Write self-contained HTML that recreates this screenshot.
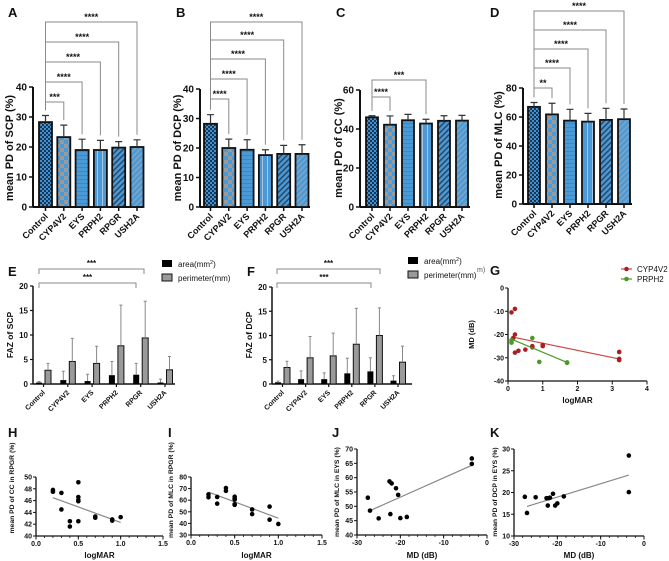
<!DOCTYPE html>
<html><head><meta charset="utf-8">
<style>
html,body{margin:0;padding:0;background:#fff;}
svg{display:block;font-family:"Liberation Sans",Arial,sans-serif;}
</style></head>
<body>
<svg id="fig" width="669" height="561" viewBox="0 0 669 561" xmlns="http://www.w3.org/2000/svg">
<defs>
<pattern id="pCtrl" width="4" height="4" patternUnits="userSpaceOnUse"><rect width="4" height="4" fill="#1c3552"/><rect width="2" height="2" fill="#3f92d2"/><rect x="2" y="2" width="2" height="2" fill="#3f92d2"/></pattern>
<pattern id="pCyp" width="8" height="8" patternUnits="userSpaceOnUse"><rect width="8" height="8" fill="#4a9ad8"/><rect width="4" height="4" fill="#9a9a9a"/><rect x="4" y="4" width="4" height="4" fill="#9a9a9a"/></pattern>
<pattern id="pEys" width="4" height="4" patternUnits="userSpaceOnUse"><rect width="4" height="4" fill="#4a9ad8"/><rect y="3" width="4" height="1" fill="#6a7c8c"/></pattern>
<pattern id="pPrph" width="5" height="5" patternUnits="userSpaceOnUse"><rect width="5" height="5" fill="#4a9ad8"/><rect x="2" width="1" height="5" fill="#a9c6de"/></pattern>
<pattern id="pRpgr" width="4" height="4" patternUnits="userSpaceOnUse" patternTransform="rotate(45)"><rect width="4" height="4" fill="#4a9ad8"/><rect width="1.6" height="4" fill="#2a4a6a"/></pattern>
<pattern id="pUsh" width="4" height="4" patternUnits="userSpaceOnUse" patternTransform="rotate(45)"><rect width="4" height="4" fill="#4a9ad8"/><rect width="1.3" height="4" fill="#8aa6bd"/></pattern>
</defs>
</svg>
<script>
const barCats = ['Control','CYP4V2','EYS','PRPH2','RPGR','USH2A'];
const aMean = [28.3, 23.3, 19.0, 19.0, 19.8, 20.0];
const aErr  = [30.5, 27.3, 22.6, 22.2, 21.8, 22.4];
const aSig  = ['***','****','****','****','****'];
const bMean = [28.2, 20.0, 19.4, 17.6, 18.0, 18.0];
const bErr  = [31.3, 23.0, 22.8, 19.4, 20.9, 21.1];
const bSig  = ['****','****','****','****','****'];
const cMean = [46.0, 42.2, 44.5, 42.8, 44.2, 44.3];
const cErr  = [46.8, 46.7, 47.5, 45.0, 46.8, 47.0];
const cSig  = ['****','***'];
const cSigTargets = [1, 3];
const dMean = [67.0, 61.8, 57.5, 56.8, 58.0, 58.5];
const dErr  = [70.0, 69.5, 65.3, 62.5, 66.0, 65.5];
const dSig  = ['**','****','****','****','****'];
const eArea = [0.3, 0.8, 0.6, 1.8, 1.9, 0.3];
const eAreaErr = [0.5, 2.6, 2.0, 4.6, 4.2, 1.0];
const ePerim = [2.8, 4.6, 4.2, 7.8, 9.4, 2.9];
const ePerimErr = [4.2, 9.3, 7.7, 16.1, 16.9, 5.6];
const fArea = [0.35, 1.0, 1.0, 2.2, 2.6, 0.7];
const fAreaErr = [0.6, 2.7, 2.3, 5.3, 5.4, 1.7];
const fPerim = [3.4, 5.4, 5.8, 8.2, 10.0, 4.5];
const fPerimErr = [4.7, 9.8, 10.5, 15.6, 15.7, 7.8];
const gCypX = [0.1, 0.2, 0.15, 0.2, 0.2, 0.3, 0.5, 0.7, 0.7, 1.0, 1.0, 3.2, 3.2, 3.2];
const gCypY = [-10.5, -9, -21.5, -20, -27.8, -27, -26.5, -25, -25.5, -24.5, -25, -27.5, -30.5, -31];
const gCypFit = [0.1, -21, 3.2, -30.5];
const gPrX = [0.1, 0.1, 0.7, 0.9, 1.7, 1.7];
const gPrY = [-22.5, -23.5, -21.5, -31.8, -32, -32.2];
const gPrFit = [0.1, -22, 1.7, -32];
const hX = [0.2,0.2,0.3,0.3,0.4,0.4,0.5,0.5,0.5,0.5,0.5,0.7,0.7,0.9,0.9,1.0];
const hY = [47.8,47.5,47.3,44.5,42.5,41.6,49.1,46.6,46.1,45.9,42.5,43.3,43.1,42.8,42.6,43.2];
const hFit = [0.2, 46.5, 1.0, 42.3];
const iX = [0.2,0.2,0.3,0.3,0.4,0.4,0.5,0.5,0.5,0.5,0.5,0.7,0.7,0.9,0.9,1.0];
const iY = [65,62.5,62.8,57,70.5,68,63,61.5,60.5,56.5,56,52,48,54.5,43.2,39.5];
const iFit = [0.2, 67, 1.0, 44.5];
const jX = [-27.5,-27,-25,-22.5,-22,-22.3,-21,-20.5,-20,-18.5,-3.5,-3.5];
const jY = [53,48.5,45.8,58.7,58,47.3,56.3,54,45.9,46.3,66.7,64.8];
const jFit = [-27, 48.5, -3.5, 64.3];
const kX = [-27.5,-27,-25,-22.5,-22.2,-22,-21.7,-21,-20.5,-20,-18.5,-3.5,-3.5];
const kY = [19,15.3,18.9,18.7,17,18.7,18.8,19.7,17,17.5,19.1,28.5,20.1];
const kFit = [-27, 16.8, -3.5, 24];

const NS='http://www.w3.org/2000/svg';
const svg=document.getElementById('fig');
function mk(tag, attrs, parent){const e=document.createElementNS(NS,tag);for(const k in attrs)e.setAttribute(k,attrs[k]);(parent||svg).appendChild(e);return e;}
function txt(s,x,y,size,opts){opts=opts||{};const t=mk('text',{x:x,y:y,'font-size':size,'font-weight':opts.w||'bold','text-anchor':opts.a||'middle',fill:opts.fill||'#111'},opts.p);if(opts.rot!==undefined)t.setAttribute('transform','rotate('+opts.rot+' '+x+' '+y+')');t.textContent=s;return t;}
const patterns=['url(#pCtrl)','url(#pCyp)','url(#pEys)','url(#pPrph)','url(#pRpgr)','url(#pUsh)'];

function letter(s,x,y){const t=txt(s,x,y,13,{a:'start'});}

function barPanel(cfg, means, errs, sig, targets){
  const g=mk('g',{});
  
  
  const Y=v=>cfg.y0-v*cfg.k;
  const X=i=>cfg.bx+i*cfg.step;
  mk('line',{x1:cfg.ax,y1:Y(cfg.tmax),x2:cfg.ax,y2:cfg.y0,stroke:'#111','stroke-width':2},g);
  mk('line',{x1:cfg.ax,y1:cfg.y0,x2:cfg.xend,y2:cfg.y0,stroke:'#111','stroke-width':2},g);
  for(let v=0;v<=cfg.tmax;v+=cfg.tstep){
    mk('line',{x1:cfg.ax-4,y1:Y(v),x2:cfg.ax,y2:Y(v),stroke:'#111','stroke-width':1.5},g);
    const t=txt(String(v),cfg.ax-6,Y(v)+3.5,10,{a:'end',p:g});
    
    
  }
  const yt=txt(cfg.ytitle,cfg.ytx,cfg.yty,11,{rot:-90,p:g});
  
  
  means.forEach((m,i)=>{
    const x=X(i);
    const r=mk('rect',{x:x-cfg.bw/2,y:Y(m),width:cfg.bw,height:cfg.y0-Y(m),fill:patterns[i],stroke:'#111','stroke-width':1.8},g);
    
    
    const e=mk('path',{d:'M'+x+' '+Y(m)+'V'+Y(errs[i])+'M'+(x-3.5)+' '+Y(errs[i])+'H'+(x+3.5),stroke:'#333','stroke-width':1.2,fill:'none'},g);
    
    
    mk('line',{x1:x,y1:cfg.y0,x2:x,y2:cfg.y0+4,stroke:'#111','stroke-width':1.5},g);
    const lt=txt(barCats[i],x+3,cfg.y0+10,9,{a:'end',rot:-45,p:g});
    
    
  });
  sig.forEach((s,j)=>{
    const ti=targets?targets[j]:j+1;
    const yl=cfg.brY[j];
    const x0=X(0), x1=X(ti);
    const p=mk('path',{d:'M'+x0+' '+(Y(errs[0])-5)+'V'+yl+'H'+x1+'V'+(Y(errs[ti])-5),stroke:'#8a8a8a','stroke-width':1,fill:'none'},g);
    
    
    const st=txt(s,(x0+x1)/2,yl-2,9,{p:g});
    
    
  });
}

barPanel({name:'panel-a-chart',ax:33,y0:207,k:3.0,tmax:40,tstep:10,bx:45.5,step:18.3,bw:13,xend:143,ytitle:'mean PD of SCP (%)',ytx:13,yty:148,brY:[102,82,62,42,22]},aMean,aErr,aSig);
barPanel({name:'panel-b-chart',ax:200,y0:207,k:2.95,tmax:40,tstep:10,bx:210.5,step:18.3,bw:13,xend:310,ytitle:'mean PD of DCP (%)',ytx:181,yty:148,brY:[99,79,59,40,22]},bMean,bErr,bSig);
barPanel({name:'panel-c-chart',ax:360,y0:207,k:1.95,tmax:60,tstep:20,bx:372,step:18,bw:12,xend:470,ytitle:'mean PD of CC (%)',ytx:342,yty:148,brY:[97,80]},cMean,cErr,cSig,cSigTargets);
barPanel({name:'panel-d-chart',ax:523,y0:204,k:1.45,tmax:80,tstep:20,bx:534,step:18,bw:12,xend:632,ytitle:'mean PD of MLC (%)',ytx:502,yty:145,brY:[88,68,49,30,11]},dMean,dErr,dSig);

function fazPanel(cfg, area, areaErr, per, perErr){
  const g=mk('g',{});
  
  
  const Y=v=>cfg.y0-v*cfg.k;
  const X=i=>cfg.gx+i*cfg.step;
  mk('line',{x1:cfg.ax,y1:Y(20),x2:cfg.ax,y2:cfg.y0,stroke:'#111','stroke-width':1.5},g);
  mk('line',{x1:cfg.ax,y1:cfg.y0,x2:cfg.xend,y2:cfg.y0,stroke:'#111','stroke-width':1.5},g);
  for(let v=0;v<=20;v+=5){
    mk('line',{x1:cfg.ax-3,y1:Y(v),x2:cfg.ax,y2:Y(v),stroke:'#111','stroke-width':1.2},g);
    const t=txt(String(v),cfg.ax-5,Y(v)+3,8,{a:'end',p:g});
    
    
  }
  const yt=txt(cfg.ytitle,cfg.ytx,335,8.5,{rot:-90,p:g});
  
  
  area.forEach((a,i)=>{
    const c=X(i);
    const xb=c-4.5, xg=c+4.5;
    const r1=mk('rect',{x:xb-3,y:Y(a),width:6,height:cfg.y0-Y(a),fill:'#000'},g);
    
    
    mk('path',{d:'M'+xb+' '+Y(a)+'V'+Y(areaErr[i])+'M'+(xb-1.5)+' '+Y(areaErr[i])+'H'+(xb+1.5),stroke:'#888','stroke-width':1,fill:'none'},g);
    const r2=mk('rect',{x:xg-3,y:Y(per[i]),width:6,height:cfg.y0-Y(per[i]),fill:'#9a9a9a',stroke:'#111','stroke-width':1},g);
    
    
    mk('path',{d:'M'+xg+' '+Y(per[i])+'V'+Y(perErr[i])+'M'+(xg-1.5)+' '+Y(perErr[i])+'H'+(xg+1.5),stroke:'#888','stroke-width':1,fill:'none'},g);
    mk('line',{x1:c,y1:cfg.y0,x2:c,y2:cfg.y0+3,stroke:'#111','stroke-width':1.2},g);
    const lt=txt(barCats[i],c+2,cfg.y0+9,7,{a:'end',rot:-45,p:g});
    
    
  });
  cfg.br.forEach(b=>{
    const p=mk('path',{d:'M'+b[0]+' '+(b[2]+5)+'V'+b[2]+'H'+b[1]+'V'+(b[2]+5),stroke:'#888','stroke-width':1,fill:'none'},g);
    
    
    const st=txt('***',(b[0]+b[1])/2,b[2]-3,8,{p:g});
    
    
  });
  const lg=mk('g',{},g);
  
  
  mk('rect',{x:cfg.lx,y:cfg.ly-4,width:10,height:7,fill:'#000'},lg);
  const t1=txt('',cfg.lx+16,cfg.ly+3,8,{a:'start',w:'normal',p:lg});
  t1.textContent='area(mm';
  const sup=mk('tspan',{dy:-3,'font-size':5.5},t1);sup.textContent='2';
  const cl=mk('tspan',{dy:3},t1);cl.textContent=')';
  mk('rect',{x:cfg.lx,y:cfg.ly+10,width:10,height:7,fill:'#9a9a9a',stroke:'#111','stroke-width':1},lg);
  txt('perimeter(mm)',cfg.lx+16,cfg.ly+17,8,{a:'start',w:'normal',p:lg});
}
fazPanel({name:'panel-e-chart',ax:33,y0:384,k:4.9,gx:43.5,step:24.3,xend:175,ytitle:'FAZ of SCP',ytx:13,lx:162,ly:264,br:[[39,144,269],[39,136,283]]},eArea,eAreaErr,ePerim,ePerimErr);
fazPanel({name:'panel-f-chart',ax:272,y0:384,k:4.85,gx:282.5,step:23.1,xend:412,ytitle:'FAZ of DCP',ytx:252,lx:408,ly:261,br:[[277,380,269],[277,371,283]]},fArea,fAreaErr,fPerim,fPerimErr);
txt('m)',477,272,7,{a:'start',w:'normal',fill:'#555'});

function scatter(cfg, series){
  const g=mk('g',{});
  
  
  const X=v=>cfg.x0+(v-cfg.xmin)/(cfg.xmax-cfg.xmin)*(cfg.x1-cfg.x0);
  const Y=v=>cfg.y0-(v-cfg.ymin)/(cfg.ymax-cfg.ymin)*(cfg.y0-cfg.y1);
  mk('line',{x1:cfg.x0,y1:cfg.y1,x2:cfg.x0,y2:cfg.y0,stroke:'#111','stroke-width':1.3},g);
  mk('line',{x1:cfg.x0,y1:cfg.y0,x2:cfg.x1,y2:cfg.y0,stroke:'#111','stroke-width':1.3},g);
  for(let v=cfg.ymin;v<=cfg.ymax+1e-9;v+=cfg.ystep){
    mk('line',{x1:cfg.x0-3,y1:Y(v),x2:cfg.x0,y2:Y(v),stroke:'#111','stroke-width':1},g);
    const t=txt(String(Math.round(v*100)/100),cfg.x0-4,Y(v)+2.5,7,{a:'end',p:g});
    
    
  }
  if(cfg.minor){for(let v=cfg.xmin;v<=cfg.xmax+1e-9;v+=cfg.minor){mk('line',{x1:X(v),y1:cfg.y0,x2:X(v),y2:cfg.y0+2,stroke:'#111','stroke-width':0.8},g);}}
  for(let v=cfg.xmin;v<=cfg.xmax+1e-9;v+=cfg.xstep){
    mk('line',{x1:X(v),y1:cfg.y0,x2:X(v),y2:cfg.y0+3.5,stroke:'#111','stroke-width':1},g);
    const t=txt(cfg.fmt?v.toFixed(1):String(Math.round(v)),X(v),cfg.y0+10,7,{p:g});
    
    
  }
  const xt=txt(cfg.xtitle,(cfg.x0+cfg.x1)/2,cfg.xty,8,{p:g});
  
  
  const yt=txt(cfg.ytitle,cfg.ytx,cfg.ytc||(cfg.y0+cfg.y1)/2,cfg.yfs||7.5,{rot:-90,p:g});
  
  
  series.forEach(s=>{
    const f=s.fit;
    const l=mk('line',{x1:X(f[0]),y1:Y(f[1]),x2:X(f[2]),y2:Y(f[3]),stroke:s.lc,'stroke-width':1.2},g);
    
    
    s.xs.forEach((xv,i)=>{
      const c=mk('circle',{cx:X(xv),cy:Y(s.ys[i]),r:2.3,fill:s.pc},g);
      
      
    });
  });
}
scatter({name:'panel-g-chart',x0:508,x1:647,y0:381,y1:288,xmin:0,xmax:4,ymin:-40,ymax:0,xstep:1,ystep:10,xtitle:'logMAR',xty:403,ytitle:'MD (dB)',ytx:474},
  [{xs:gCypX,ys:gCypY,fit:gCypFit,pc:'#a81f24',lc:'#c9453f'},{xs:gPrX,ys:gPrY,fit:gPrFit,pc:'#4a9a2a',lc:'#4a9a2a'}]);
const lgG=mk('g',{});


mk('line',{x1:621,y1:269,x2:632,y2:269,stroke:'#c9453f','stroke-width':1.2},lgG);
mk('circle',{cx:626.5,cy:269,r:2.3,fill:'#a81f24'},lgG);
txt('CYP4V2',637,272,8,{a:'start',w:'normal',p:lgG});
mk('line',{x1:621,y1:279,x2:632,y2:279,stroke:'#4a9a2a','stroke-width':1.2},lgG);
mk('circle',{cx:626.5,cy:279,r:2.3,fill:'#4a9a2a'},lgG);
txt('PRPH2',637,282,8,{a:'start',w:'normal',p:lgG});

scatter({name:'panel-h-chart',x0:36,x1:163,y0:536,y1:477,xmin:0,xmax:1.5,ymin:40,ymax:50,xstep:0.5,minor:0.1,fmt:true,ystep:2,xtitle:'logMAR',xty:558,ytitle:'mean PD of CC in RPGR (%)',ytx:14,ytc:488,yfs:6.8},
  [{xs:hX,ys:hY,fit:hFit,pc:'#000',lc:'#888'}]);
scatter({name:'panel-i-chart',x0:191,x1:322,y0:535,y1:477,xmin:0,xmax:1.5,ymin:30,ymax:80,xstep:0.5,minor:0.1,fmt:true,ystep:10,xtitle:'logMAR',xty:558,ytitle:'mean PD of MLC in RPGR (%)',ytx:173,ytc:490,yfs:6.8},
  [{xs:iX,ys:iY,fit:iFit,pc:'#000',lc:'#888'}]);
scatter({name:'panel-j-chart',x0:357,x1:487,y0:535,y1:449,xmin:-30,xmax:0,ymin:40,ymax:70,xstep:10,minor:2,ystep:5,xtitle:'MD (dB)',xty:558,ytitle:'mean PD of MLC in EYS (%)',ytx:339,ytc:492,yfs:6.8},
  [{xs:jX,ys:jY,fit:jFit,pc:'#000',lc:'#888'}]);
scatter({name:'panel-k-chart',x0:514,x1:644,y0:536,y1:449,xmin:-30,xmax:0,ymin:10,ymax:30,xstep:10,minor:2,ystep:5,xtitle:'MD (dB)',xty:558,ytitle:'mean PD of DCP in EYS (%)',ytx:497,ytc:492,yfs:6.8},
  [{xs:kX,ys:kY,fit:kFit,pc:'#000',lc:'#888'}]);

letter('A',8,17);letter('B',176,17);letter('C',336,17);letter('D',490,17);
letter('E',8,276);letter('F',247,276);letter('G',490,275);
letter('H',8,437);letter('I',168,437);letter('J',332,437);letter('K',490,437);
</script>
</body></html>
